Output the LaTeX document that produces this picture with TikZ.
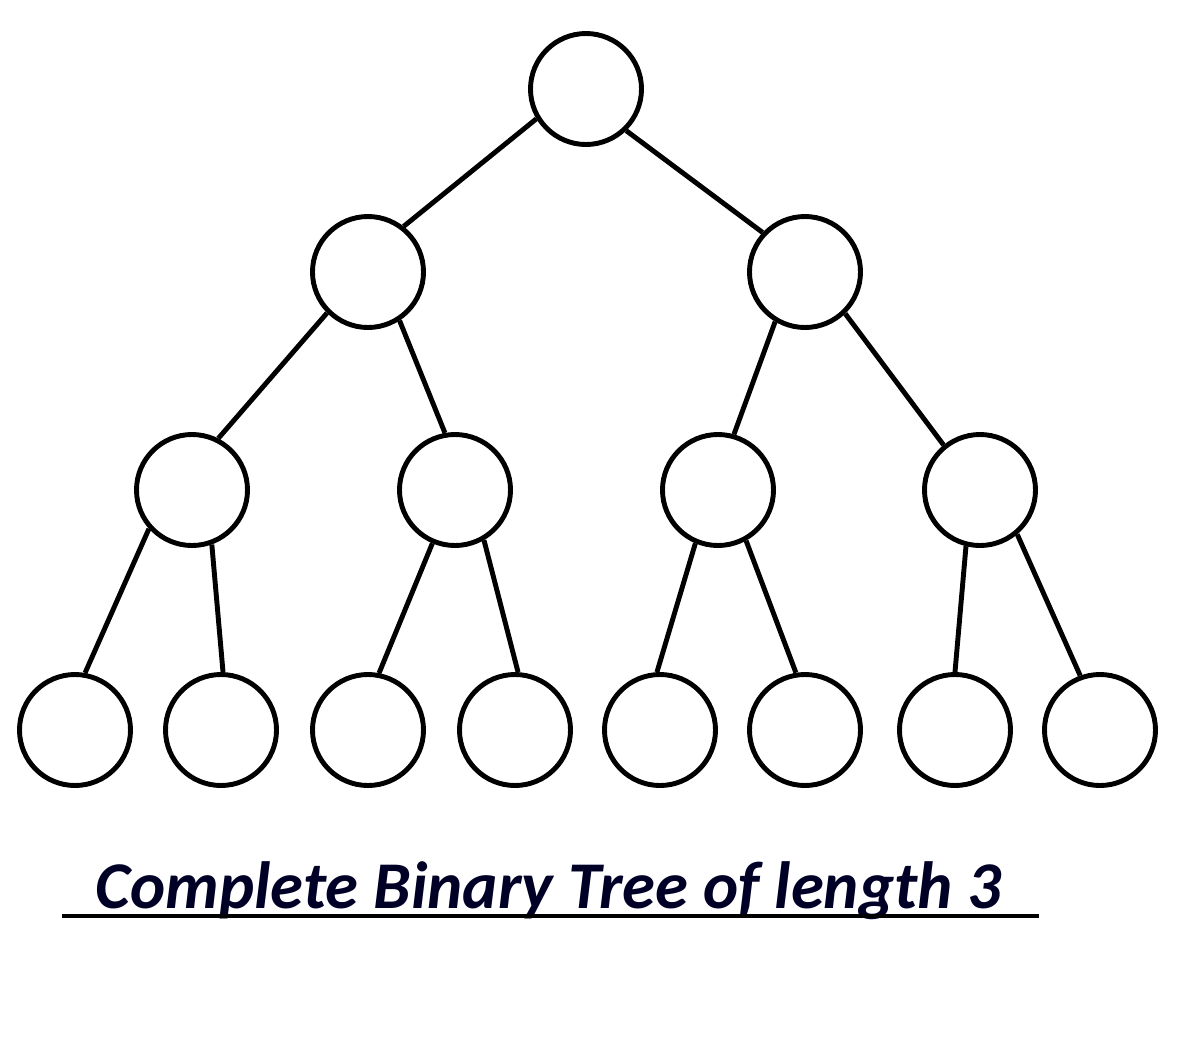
\documentclass[tikz,border=0pt]{standalone}
\usepackage{fontspec}
\setmainfont{Carlito}
\usepackage{tikz}

\begin{document}
\begin{tikzpicture}[vertex/.style={draw=black, circle, minimum size=1.11cm, inner sep=0pt, line width=1.4pt},
                    edge/.style={draw=black, line width=1.4pt}]
\useasboundingbox (0,0) rectangle (12,-10.5);
% level 0 and 1
\node[vertex] (r) at (5.86,-0.89) {};
\node[vertex] (a) at (3.68,-2.72) {};
\node[vertex] (b) at (8.05,-2.72) {};
% level 2
\node[vertex] (aa) at (1.92,-4.90) {};
\node[vertex] (ab) at (4.55,-4.90) {};
\node[vertex] (ba) at (7.18,-4.90) {};
\node[vertex] (bb) at (9.80,-4.90) {};
% leaves
\node[vertex] (aaa) at (0.75,-7.30) {};
\node[vertex] (aab) at (2.21,-7.30) {};
\node[vertex] (aba) at (3.68,-7.30) {};
\node[vertex] (abb) at (5.15,-7.30) {};
\node[vertex] (baa) at (6.60,-7.30) {};
\node[vertex] (bab) at (8.05,-7.30) {};
\node[vertex] (bba) at (9.55,-7.30) {};
\node[vertex] (bbb) at (11.00,-7.30) {};
% edges
\draw[edge] (r.211) -- (a.52);
\draw[edge] (r.314) -- (b.137);
\draw[edge] (a.225) -- (aa.63);
\draw[edge] (a.303) -- (ab.100);
\draw[edge] (b.239) -- (ba.74);
\draw[edge] (b.314) -- (bb.129);
\draw[edge] (aa.222) -- (aaa.80);
\draw[edge] (aa.290) -- (aab.88);
\draw[edge] (ab.247) -- (aba.79);
\draw[edge] (ab.300) -- (abb.87);
\draw[edge] (ba.247) -- (baa.93);
\draw[edge] (ba.299) -- (bab.99);
\draw[edge] (bb.256) -- (bba.90);
\draw[edge] (bb.310) -- (bbb.110);
% caption
\node[anchor=base west, inner sep=0pt, font=\fontsize{19}{22}\selectfont\bfseries\itshape, text=black!85!blue] (cap) at (0.95,-9.08) {Complete Binary Tree of length 3};
\coordinate (ul-l) at (0.62,-9.16);
\coordinate (ul-r) at (10.39,-9.16);
\draw[line width=1.2pt] (ul-l) -- (ul-r);
\end{tikzpicture}
\end{document}
